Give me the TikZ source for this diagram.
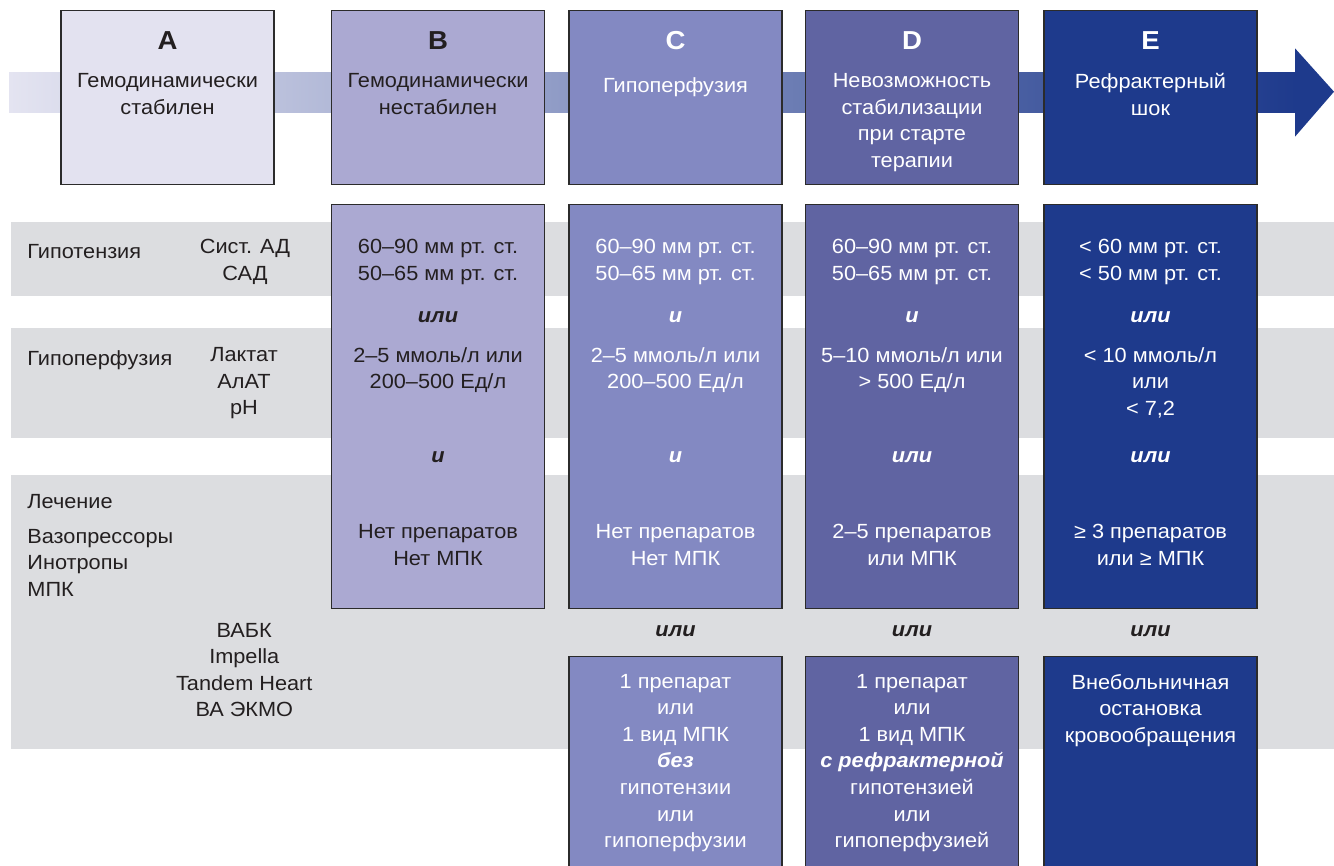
\documentclass[tikz,border=0pt]{standalone}
\usepackage{fontspec}
\setmainfont{Liberation Sans}[FakeStretch=1.06]
\usetikzlibrary{positioning}

\definecolor{ink}{HTML}{231F20}
\definecolor{edge}{HTML}{2B2B2B}
\definecolor{rowgray}{HTML}{DCDDE0}
\definecolor{stageA}{HTML}{E3E2F0}
\definecolor{stageB}{HTML}{ABA9D2}
\definecolor{stageC}{HTML}{8389C2}
\definecolor{stageD}{HTML}{6064A2}
\definecolor{stageE}{HTML}{1E3A8C}
\definecolor{arrowL}{HTML}{E4E4F1}
\definecolor{arrowM}{HTML}{7E80BB}

\newcommand\txtfont{\fontsize{10.25}{13.3}\selectfont}

\begin{document}
\begin{tikzpicture}[
  x=0.5pt, y=-0.5pt,
  stage/.style={draw=edge, line width=0.6pt, minimum width=106.5pt, inner sep=0pt, anchor=north},
  head/.style={stage, minimum height=87pt},
  crit/.style={stage, minimum height=202pt},
  mcs/.style={stage, minimum height=110pt},
  row/.style={fill=rowgray},
  plain/.style={font=\txtfont, align=center, inner sep=0pt, text=ink},
  txt/.style={plain, anchor=north, yshift=7.05pt, execute at begin node=\strut},
  wtxt/.style={txt, text=white},
  side/.style={txt, align=left, anchor=north west},
  letter/.style={plain, anchor=base, font=\fontsize{13}{15}\selectfont\bfseries},
  conj/.style={plain, anchor=base, font=\txtfont\bfseries\itshape}
]
\useasboundingbox (0,0) rectangle (1334,866);

% grey rows
\fill[row] (11,221.7) rectangle (1334,296);
\fill[row] (11,328.5) rectangle (1334,438.3);
\fill[row] (11,475) rectangle (1334,749.3);

% progression arrow
\shade[left color=arrowL, middle color=arrowM, right color=stageE] (9,72.5) rectangle (1296,112.5);
\fill[stageE] (1295,48.3) -- (1334,91.7) -- (1295,136.7) -- cycle;

% stage headers
\node[head, fill=stageA] (stA) at (167.5,10) {};
\node[head, fill=stageB] (stB) at (438,10) {};
\node[head, fill=stageC] (stC) at (675.5,10) {};
\node[head, fill=stageD] (stD) at (912,10) {};
\node[head, fill=stageE] (stE) at (1150.5,10) {};

% criteria columns
\node[crit, fill=stageB, below=9.35pt of stB] (critB) {};
\node[crit, fill=stageC, below=9.35pt of stC] (critC) {};
\node[crit, fill=stageD, below=9.35pt of stD] (critD) {};
\node[crit, fill=stageE, below=9.35pt of stE] (critE) {};

% support boxes
\node[mcs, fill=stageC, below=23.3pt of critC] (mcsC) {};
\node[mcs, fill=stageD, below=23.3pt of critD] (mcsD) {};
\node[mcs, fill=stageE, below=23.3pt of critE] (mcsE) {};

% header texts
\node[letter] (lA) at (167.5,49.3) {A};
\node[letter] (lB) at (438,49.3) {B};
\node[letter, text=white] (lC) at (675.5,49.3) {C};
\node[letter, text=white] (lD) at (912,49.3) {D};
\node[letter, text=white] (lE) at (1150.5,49.3) {E};
\node[txt] (nA) at (167.5,87.3) {Гемодинамически\\стабилен};
\node[txt] (nB) at (438,87.3) {Гемодинамически\\нестабилен};
\node[wtxt] (nC) at (675.5,87.3) {Гипоперфузия};
\node[wtxt] (nD) at (912,87.3) {Невозможность\\стабилизации\\при старте\\терапии};
\node[wtxt] (nE) at (1150.5,87.3) {Рефрактерный\\шок};

% row labels
\node[side] (hypo) at (27,253.3) {Гипотензия};
\node[txt] (hypoP) at (245,253.3) {Сист. АД\\САД};
\node[side] (perf) at (27,361) {Гипоперфузия};
\node[txt] (perfP) at (244,361) {Лактат\\АлАТ\\pH};
\node[side] (treat) at (27,504) {Лечение};
\node[side] (drugs) at (27,542.7) {Вазопрессоры\\Инотропы\\МПК};
\node[txt] (devs) at (244.3,636.7) {ВАБК\\Impella\\Tandem Heart\\ВА ЭКМО};

% blood pressure
\node[txt] (bpB) at (438,253.3) {60–90 мм рт. ст.\\50–65 мм рт. ст.};
\node[wtxt] (bpC) at (675.5,253.3) {60–90 мм рт. ст.\\50–65 мм рт. ст.};
\node[wtxt] (bpD) at (912,253.3) {60–90 мм рт. ст.\\50–65 мм рт. ст.};
\node[wtxt] (bpE) at (1150.5,253.3) {< 60 мм рт. ст.\\< 50 мм рт. ст.};

\node[conj] (c1B) at (438,322) {или};
\node[conj, text=white] (c1C) at (675.5,322) {и};
\node[conj, text=white] (c1D) at (912,322) {и};
\node[conj, text=white] (c1E) at (1150.5,322) {или};

% perfusion
\node[txt] (lacB) at (438,361) {2–5 ммоль/л или\\200–500 Ед/л};
\node[wtxt] (lacC) at (675.5,361) {2–5 ммоль/л или\\200–500 Ед/л};
\node[wtxt] (lacD) at (912,361) {5–10 ммоль/л или\\> 500 Ед/л};
\node[wtxt] (lacE) at (1150.5,361) {< 10 ммоль/л\\или\\< 7,2};

\node[conj] (c2B) at (438,462) {и};
\node[conj, text=white] (c2C) at (675.5,462) {и};
\node[conj, text=white] (c2D) at (912,462) {или};
\node[conj, text=white] (c2E) at (1150.5,462) {или};

% treatment
\node[txt] (rxB) at (438,538.3) {Нет препаратов\\Нет МПК};
\node[wtxt] (rxC) at (675.5,538.3) {Нет препаратов\\Нет МПК};
\node[wtxt] (rxD) at (912,538.3) {2–5 препаратов\\или МПК};
\node[wtxt] (rxE) at (1150.5,538.3) {≥ 3 препаратов\\или ≥ МПК};

\node[conj] (c3C) at (675.5,636.7) {или};
\node[conj] (c3D) at (912,636.7) {или};
\node[conj] (c3E) at (1150.5,636.7) {или};

\node[wtxt] (supC) at (675.5,687.7) {1 препарат\\или\\1 вид МПК\\\textbf{\textit{без}}\\гипотензии\\или\\гипоперфузии};
\node[wtxt] (supD) at (912,687.7) {1 препарат\\или\\1 вид МПК\\\textbf{\textit{с рефрактерной}}\\гипотензией\\или\\гипоперфузией};
\node[wtxt] (supE) at (1150.5,687.7) {Внебольничная\\остановка\\кровообращения};
\end{tikzpicture}
\end{document}
